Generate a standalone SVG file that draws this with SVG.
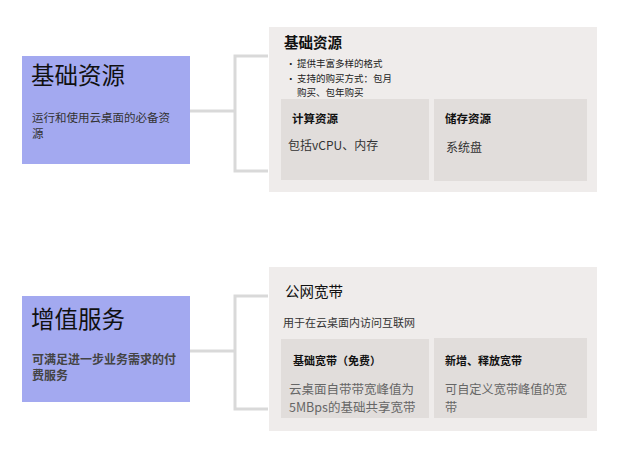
<svg xmlns="http://www.w3.org/2000/svg" width="617" height="460" viewBox="0 0 617 460">
<style>
text{font-family:"Noto Sans CJK SC","Noto Sans",sans-serif}
.blue{fill:#a3a9f0}
.panel{fill:#efeceb}
.sub{fill:#e1dddb}
.big{font-size:23.5px;fill:#111}
.desc{font-size:11.5px;fill:#333}
.descb{font-size:12px;fill:#444;font-weight:bold}
.ptitle{font-size:14.5px;fill:#111}
.small{font-size:9.5px;fill:#222}
.stitle{font-size:11.5px;fill:#111;font-weight:bold}
.sbody{font-size:12px;fill:#333}
.gbody{font-size:12.5px;fill:#666}
.conn{fill:none;stroke:#d9d9d9;stroke-width:3}
</style>
<rect width="617" height="460" fill="#ffffff"/>
<g id="connectors">
<path class="conn" d="M190 111H235M268 56H235V171H268"/>
<path class="conn" d="M190 351H235M268 296H235V409H268"/>
</g>
<g id="node-basic">
<rect class="blue" x="22" y="56" width="168" height="108"/>
<text class="big" x="31" y="84">基础资源</text>
<text class="desc" x="32" y="122">运行和使用云桌面的必备资</text>
<text class="desc" x="32" y="138">源</text>
</g>
<g id="panel-basic">
<rect class="panel" x="269" y="27" width="328" height="165"/>
<text class="ptitle" x="284" y="48" font-weight="bold">基础资源</text>
<text class="small" x="286" y="67">·</text>
<text class="small" x="297" y="67">提供丰富多样的格式</text>
<text class="small" x="286" y="82">·</text>
<text class="small" x="297" y="82">支持的购买方式：包月</text>
<text class="small" x="297" y="96">购买、包年购买</text>
</g>
<g id="sub-compute">
<rect class="sub" x="281" y="99" width="148" height="81"/>
<text class="stitle" x="292" y="123">计算资源</text>
<text class="sbody" x="288" y="150">包括vCPU、内存</text>
</g>
<g id="sub-storage">
<rect class="sub" x="434" y="99" width="153" height="82"/>
<text class="stitle" x="445" y="123">储存资源</text>
<text class="sbody" x="446" y="152">系统盘</text>
</g>
<g id="node-value">
<rect class="blue" x="22" y="296" width="168" height="106"/>
<text class="big" x="31" y="328">增值服务</text>
<text class="descb" x="32" y="364">可满足进一步业务需求的付</text>
<text class="descb" x="32" y="380">费服务</text>
</g>
<g id="panel-value">
<rect class="panel" x="269" y="267" width="328" height="164"/>
<text class="ptitle" x="285" y="297">公网宽带</text>
<text class="desc" x="283" y="327" style="font-size:11px">用于在云桌面内访问互联网</text>
</g>
<g id="sub-free">
<rect class="sub" x="281" y="339" width="148" height="79"/>
<text class="stitle" x="293" y="365" style="font-size:11px">基础宽带（免费）</text>
<text class="gbody" x="289" y="394">云桌面自带带宽峰值为</text>
<text class="gbody" x="289" y="412">5MBps的基础共享宽带</text>
</g>
<g id="sub-extra">
<rect class="sub" x="434" y="338" width="153" height="80"/>
<text class="stitle" x="445" y="365" style="font-size:11px">新增、释放宽带</text>
<text class="gbody" x="445" y="394" style="font-size:12.2px">可自定义宽带峰值的宽</text>
<text class="gbody" x="445" y="412" style="font-size:12.2px">带</text>
</g>
</svg>
